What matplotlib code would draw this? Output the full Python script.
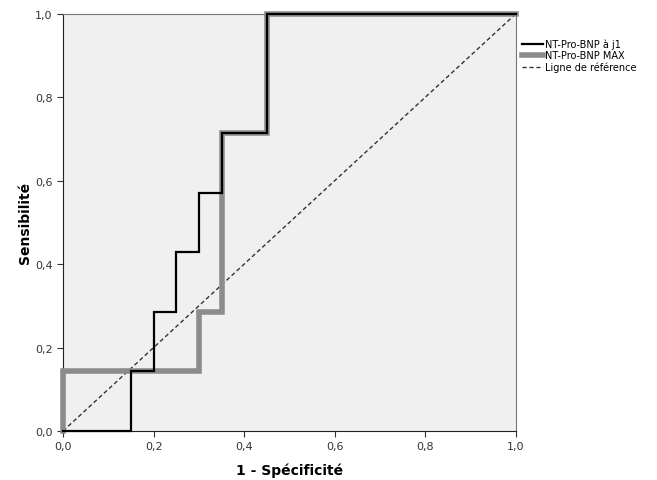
import matplotlib
matplotlib.use("Agg")
import matplotlib.pyplot as plt

# ROC corner points (1 - specificity, sensitivity)
fpr_j1 = [0.0, 0.15, 0.15, 0.20, 0.20, 0.25, 0.25, 0.30, 0.30, 0.35, 0.35, 0.45, 0.45, 1.0]
tpr_j1 = [0.0, 0.0, 0.143, 0.143, 0.286, 0.286, 0.429, 0.429, 0.571, 0.571, 0.714, 0.714, 1.0, 1.0]

fpr_max = [0.0, 0.0, 0.30, 0.30, 0.35, 0.35, 0.45, 0.45, 1.0]
tpr_max = [0.0, 0.143, 0.143, 0.286, 0.286, 0.714, 0.714, 1.0, 1.0]

ref_line = [0.0, 1.0]
ticks = [0.0, 0.2, 0.4, 0.6, 0.8, 1.0]
tick_labels = ["0,0", "0,2", "0,4", "0,6", "0,8", "1,0"]

fig = plt.figure(figsize=(6.57, 4.81), dpi=100)
ax = fig.add_axes([0.096, 0.102, 0.689, 0.867])
ax.set_facecolor("#f0f0f0")

ax.plot(fpr_max, tpr_max, color="#8c8c8c", lw=4, solid_joinstyle="miter",
        label="NT-Pro-BNP MAX", zorder=3, clip_on=False)
ax.plot(fpr_j1, tpr_j1, color="black", lw=1.6, solid_joinstyle="miter",
        label="NT-Pro-BNP à j1", zorder=4, clip_on=False)
ax.plot(ref_line, ref_line, color="#333333", lw=1, ls=(0, (3, 2)),
        label="Ligne de référence", zorder=2)

ax.set_xlim(0, 1)
ax.set_ylim(0, 1)
ax.set_xticks(ticks)
ax.set_xticklabels(tick_labels)
ax.set_yticks(ticks)
ax.set_yticklabels(tick_labels)
ax.tick_params(labelsize=8, length=4, color="#333333", labelcolor="#333333")

for side in ["left", "bottom"]:
    ax.spines[side].set_color("#222222")
for side in ["top", "right"]:
    ax.spines[side].set_color("#777777")

ax.set_xlabel("1 - Spécificité", fontsize=10, fontweight="bold", labelpad=8)
ax.set_ylabel("Sensibilité", fontsize=10, fontweight="bold", labelpad=2)

handles, labels = ax.get_legend_handles_labels()
order = [1, 0, 2]
ax.legend([handles[i] for i in order], [labels[i] for i in order],
          loc="upper left", bbox_to_anchor=(1.0, 0.955), frameon=False,
          fontsize=7, handlelength=2.2, handletextpad=0.2, labelspacing=0.15,
          borderaxespad=0.2)

fig.savefig("out.png", dpi=100)
